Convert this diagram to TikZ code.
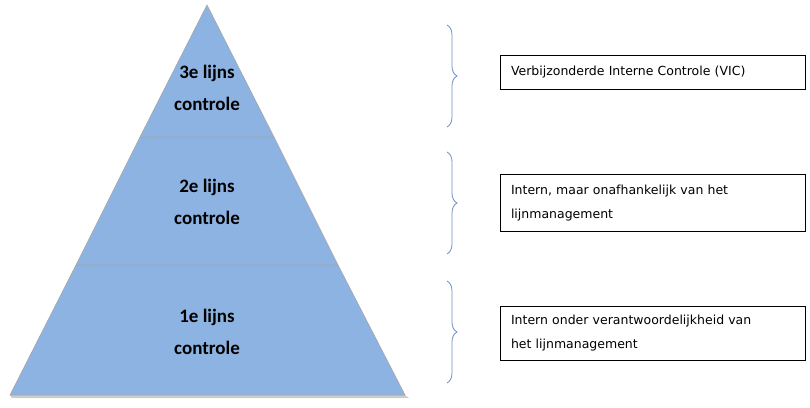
\documentclass[tikz,border=0pt]{standalone}
\usepackage{fontspec}
\setmainfont{Carlito}
\newfontfamily\boxfont{DejaVu Sans}
\usetikzlibrary{positioning, decorations.pathreplacing}
\definecolor{pyr}{HTML}{8DB3E2}
\definecolor{bracecol}{HTML}{6E8FC0}
\tikzset{
        layer/.style={draw=gray!70, fill=pyr, line width=0.6pt},
        layertext/.style={align=center, font=\bfseries\fontsize{19}{32}\selectfont},
        infobox/.style={rectangle, draw, line width=0.6pt, text width=283pt, align=left, inner xsep=11pt, font=\boxfont\fontsize{12.5}{24}\selectfont},
        bracket/.style={draw=bracecol, line width=0.8pt, decorate, decoration={brace, amplitude=10pt}},
    }
\begin{document}
\begin{tikzpicture}[x=1pt, y=-1pt]
        \useasboundingbox (0,0) rectangle (810,407);
        % Pyramid layers
        \fill[gray!40] (12,398) -- (409,398) -- (405,395) -- (10,395) -- cycle;
        \draw[layer] (10,395) -- (76,265) -- (338,265) -- (405,395) -- cycle;
        \draw[layer] (76,265) -- (140,137) -- (274,137) -- (338,265) -- cycle;
        \draw[layer] (140,137) -- (207,5) -- (274,137) -- cycle;

        \node[layertext] (l3) at (207,88) {3e lijns\\controle};
        \node[layertext] (l2) at (207,202) {2e lijns\\controle};
        \node[layertext] (l1) at (207,332) {1e lijns\\controle};

        % Descriptions
        \node[infobox, minimum height=34pt] (vic) at (652.5,72) {Verbijzonderde Interne Controle (VIC)};
        \node[infobox, minimum height=57pt] (intern) at (652.5,203) {Intern, maar onafhankelijk van het\\lijnmanagement};
        \node[infobox, minimum height=54pt] (onder) at (652.5,333) {Intern onder verantwoordelijkheid van\\het lijnmanagement};

        % Braces
        \coordinate (b3t) at (447,25);  \coordinate (b3b) at (447,127);
        \coordinate (b2t) at (447,152); \coordinate (b2b) at (447,254);
        \coordinate (b1t) at (447,281); \coordinate (b1b) at (447,383);
        \draw[bracket] (b3t) -- (b3b);
        \draw[bracket] (b2t) -- (b2b);
        \draw[bracket] (b1t) -- (b1b);
    \end{tikzpicture}
\end{document}
